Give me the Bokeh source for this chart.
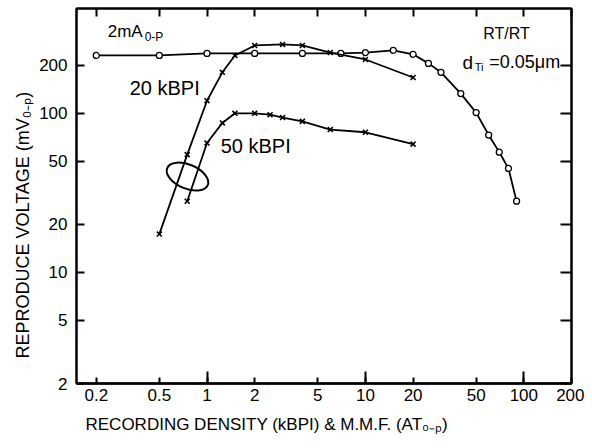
from bokeh.plotting import figure
from bokeh.models import FixedTicker, LogAxis, Label, CustomJSTickFormatter, Range1d, Title
from bokeh.embed import file_html
from bokeh.resources import INLINE

# Reproduce voltage vs recording density at 2 mA0-p (circles)
density_x = [0.2, 0.5, 1, 2, 4, 7, 10, 15, 20, 25, 30, 40, 50, 60, 70, 80, 90]
density_y = [231, 231, 238, 238, 238, 238, 241, 249, 235, 206, 181, 133, 101, 73, 57, 45, 28]

# Reproduce voltage vs M.M.F. at 20 kBPI (crosses)
mmf20_x = [0.5, 0.75, 1, 1.25, 1.5, 2, 3, 4, 6, 10, 20]
mmf20_y = [17.4, 55, 120, 181, 231, 267, 271, 267, 241, 218, 168]

# Reproduce voltage vs M.M.F. at 50 kBPI (crosses)
mmf50_x = [0.75, 1, 1.25, 1.5, 2, 2.5, 3, 4, 6, 10, 20]
mmf50_y = [28, 65, 87, 100, 100, 98, 94, 89, 79, 76, 64]

x_ticks = [0.2, 0.5, 1, 2, 5, 10, 20, 50, 100, 200]
x_tick_labels = ["0.2", "0.5", "1", "2", "5", "10", "20", "50", "100", "200"]
x_decade_ticks = [1, 10, 100]
y_ticks = [2, 5, 10, 20, 50, 100, 200]
y_tick_labels = ["2", "5", "10", "20", "50", "100", "200"]

FONT = "Liberation Sans"

p = figure(width=584, height=446, x_axis_type="log", y_axis_type="log",
           x_range=Range1d(0.15, 200), y_range=Range1d(2, 456),
           output_backend="svg", toolbar_location=None,
           min_border_left=76, min_border_right=13, min_border_top=8,
           min_border_bottom=63)
p.background_fill_color = "white"
p.border_fill_color = "white"
p.grid.visible = False
p.outline_line_color = "black"
p.outline_line_width = 2


def fmt(tick_values, tick_labels):
    return CustomJSTickFormatter(args=dict(tv=tick_values, tl=tick_labels),
                                 code="const i = tv.indexOf(tick); return i >= 0 ? tl[i] : '';")


for ax, tvals, tlabs, so, tin in ((p.xaxis[0], x_ticks, x_tick_labels, 5, 6),
                                  (p.yaxis[0], y_ticks, y_tick_labels, 9, 8)):
    ax.ticker = FixedTicker(ticks=tvals, minor_ticks=[])
    ax.formatter = fmt(tvals, tlabs)
    ax.major_tick_in = tin
    ax.major_tick_out = 0
    ax.minor_tick_line_color = None
    ax.major_tick_line_width = 2
    ax.axis_line_width = 2
    ax.major_label_text_font = FONT
    ax.major_label_text_font_size = "17px"
    ax.major_label_text_color = "black"
    ax.major_label_standoff = so

blank = CustomJSTickFormatter(code="return '';")


def tick_axis(ticks, tin):
    return LogAxis(ticker=FixedTicker(ticks=ticks, minor_ticks=[]), formatter=blank,
                   major_label_standoff=0, major_tick_in=tin, major_tick_out=0,
                   major_tick_line_width=2, minor_tick_line_color=None,
                   axis_line_width=2)


# inner ticks on top and right edges, longer decade ticks at the bottom
p.add_layout(tick_axis(x_ticks, 8), "above")
p.add_layout(tick_axis(y_ticks, 11), "right")
p.below = [tick_axis(x_decade_ticks, 12), *p.below]

LW = 1.8
p.line(density_x, density_y, line_color="black", line_width=LW)
p.scatter(density_x, density_y, marker="circle", size=6, fill_color="white",
          line_color="black", line_width=1.3)

p.line(mmf20_x, mmf20_y, line_color="black", line_width=LW)
p.scatter(mmf20_x, mmf20_y, marker="x", size=7, line_color="black", line_width=1.6)

p.line(mmf50_x, mmf50_y, line_color="black", line_width=LW)
p.scatter(mmf50_x, mmf50_y, marker="x", size=7, line_color="black", line_width=1.6)

# loop around the two M.M.F. curves
p.ellipse(x=[0.753], y=[40], width=44, height=24, width_units="screen",
          height_units="screen", angle=-0.4, fill_color=None,
          line_color="black", line_width=2)


def txt(x, y, s, size="17px", align="left"):
    p.add_layout(Label(x=x, y=y, text=s, text_font=FONT, text_font_size=size,
                       text_color="black", text_align=align, text_baseline="middle"))


txt(0.325, 145, "20 kBPI", size="20px")
txt(1.22, 62.7, "50 kBPI", size="20px")
txt(0.236, 327, "2mA", size="17px")
txt(0.404, 300, "0-P", size="12px")
txt(77.8, 318, "RT/RT", size="16px", align="center")
txt(41.0, 209, "d", size="19px")
txt(49.0, 195, "Ti", size="11px")
txt(60.5, 209, "=0.05\u03bcm", size="18px")

# axis titles
p.add_layout(Title(text="RECORDING DENSITY (kBPI) & M.M.F. (AT\u2080\u208b\u209a)",
                   align="left", offset=9, standoff=18, text_font=FONT,
                   text_font_size="17px", text_font_style="normal",
                   text_color="black"), "below")
p.add_layout(Title(text="REPRODUCE VOLTAGE (mV\u2080\u208b\u209a)",
                   align="left", offset=25, standoff=8, text_font=FONT,
                   text_font_size="18px", text_font_style="normal",
                   text_color="black"), "left")

open("out.html", "w").write(file_html(p, INLINE))
